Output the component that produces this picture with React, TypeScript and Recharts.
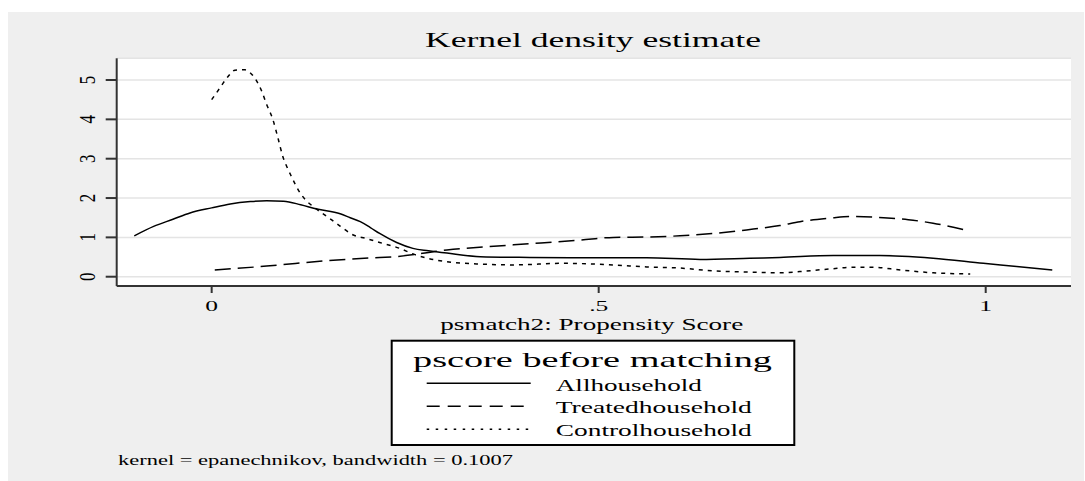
import React from "react";
import { LineChart, Line, XAxis, YAxis, CartesianGrid } from "recharts";

// ---- data ----
const allX = [-0.1, -0.075, -0.05, -0.028, 0.0, 0.024, 0.05, 0.071, 0.093, 0.115, 0.136, 0.166, 0.179, 0.192, 0.205, 0.217, 0.239, 0.26, 0.28, 0.304, 0.347, 0.411, 0.476, 0.562, 0.631, 0.695, 0.734, 0.803, 0.863, 0.932, 0.997, 1.04, 1.086];
const allY = [1.04, 1.28, 1.46, 1.62, 1.75, 1.85, 1.91, 1.93, 1.92, 1.83, 1.72, 1.6, 1.5, 1.4, 1.25, 1.1, 0.87, 0.72, 0.66, 0.6, 0.51, 0.49, 0.48, 0.48, 0.44, 0.47, 0.49, 0.54, 0.54, 0.47, 0.34, 0.26, 0.17];

const treatedX = [0.004, 0.071, 0.157, 0.217, 0.237, 0.304, 0.39, 0.476, 0.519, 0.562, 0.605, 0.648, 0.691, 0.734, 0.76, 0.8, 0.825, 0.868, 0.9, 0.932, 0.978];
const treatedY = [0.17, 0.27, 0.42, 0.49, 0.51, 0.68, 0.81, 0.93, 1.0, 1.01, 1.04, 1.1, 1.19, 1.3, 1.4, 1.49, 1.53, 1.5, 1.45, 1.36, 1.17];

const controlX = [0.0, 0.01, 0.02, 0.03, 0.043, 0.05, 0.058, 0.065, 0.071, 0.079, 0.086, 0.092, 0.097, 0.103, 0.112, 0.12, 0.13, 0.149, 0.165, 0.183, 0.2, 0.217, 0.243, 0.26, 0.304, 0.35, 0.39, 0.454, 0.519, 0.562, 0.605, 0.648, 0.69, 0.734, 0.76, 0.8, 0.829, 0.855, 0.89, 0.932, 0.98];
const controlY = [4.5, 4.78, 5.06, 5.25, 5.26, 5.18, 4.98, 4.7, 4.38, 4.0, 3.5, 3.05, 2.8, 2.55, 2.2, 1.98, 1.8, 1.53, 1.3, 1.06, 0.97, 0.87, 0.72, 0.58, 0.38, 0.32, 0.3, 0.34, 0.3, 0.25, 0.22, 0.15, 0.12, 0.1, 0.13, 0.2, 0.24, 0.24, 0.17, 0.1, 0.07];

const seriesNames = ["Allhousehold", "Treatedhousehold", "Controlhousehold"];
const xTicks = [0, 0.5, 1];
const xTickLabels = ["0", ".5", "1"];
const yTicks = [0, 1, 2, 3, 4, 5];
const yTickLabels = ["0", "1", "2", "3", "4", "5"];

const titleText = "Kernel density estimate";
const xAxisLabel = "psmatch2: Propensity Score";
const legendTitle = "pscore before matching";
const noteText = "kernel = epanechnikov, bandwidth = 0.1007";

const zip = (xs: number[], ys: number[]) => xs.map((x, i) => ({ x, y: ys[i] }));
const allData = zip(allX, allY);
const treatedData = zip(treatedX, treatedY);
const controlData = zip(controlX, controlY);

const FONT = '"Liberation Serif", "Times New Roman", serif';
const W = 1076;
const H = 469;
const AXIS = "#333333";

const dashes = ["", "16 7", "4 5"];
const legendDashes = ["", "13 8", "2.5 6.5"];

const YTick = (props: any) => {
  const { y, payload } = props;
  const i = yTicks.indexOf(payload.value);
  return (
    <text
      transform={`translate(79.5,${y}) scale(1.3,1) rotate(-90)`}
      textAnchor="middle"
      dominantBaseline="central"
      fontSize={17}
      fontFamily={FONT}
      fill="#000"
    >
      {yTickLabels[i]}
    </text>
  );
};

const XTick = (props: any) => {
  const { x, y, payload } = props;
  const i = xTicks.indexOf(payload.value);
  return (
    <text
      transform={`translate(${x},${y + 17.5}) scale(1.7,1)`}
      textAnchor="middle"
      fontSize={15}
      fontFamily={FONT}
      fill="#000"
    >
      {xTickLabels[i]}
    </text>
  );
};

export default function App() {
  return (
    <div
      style={{
        position: "absolute",
        left: 8,
        top: 12,
        width: W,
        height: H,
        background: "#efefef",
        overflow: "hidden",
      }}
    >
      <LineChart
        width={W}
        height={H}
        margin={{ top: 46.3, right: 13, left: 0, bottom: 165 }}
      >
        <CartesianGrid
          horizontal={true}
          vertical={false}
          stroke="#e4e4e4"
          strokeWidth={1.5}
          fill="#ffffff"
          fillOpacity={1}
        />
        <XAxis
          dataKey="x"
          type="number"
          domain={[-0.1227, 1.1102]}
          allowDataOverflow
          ticks={xTicks}
          height={30}
          tickSize={7}
          tickMargin={0}
          axisLine={{ stroke: AXIS, strokeWidth: 2 }}
          tickLine={{ stroke: AXIS, strokeWidth: 2 }}
          tick={<XTick />}
        />
        <YAxis
          dataKey="y"
          type="number"
          domain={[-0.236, 5.552]}
          allowDataOverflow
          ticks={yTicks}
          width={108.7}
          tickSize={11}
          tickMargin={0}
          axisLine={{ stroke: AXIS, strokeWidth: 2 }}
          tickLine={{ stroke: AXIS, strokeWidth: 2 }}
          tick={<YTick />}
        />
        <Line
          data={allData}
          dataKey="y"
          name={seriesNames[0]}
          type="monotone"
          stroke="#000"
          strokeWidth={1.5}
          dot={false}
          isAnimationActive={false}
        />
        <Line
          data={treatedData}
          dataKey="y"
          name={seriesNames[1]}
          type="monotone"
          stroke="#000"
          strokeWidth={1.5}
          strokeDasharray={dashes[1]}
          dot={false}
          isAnimationActive={false}
        />
        <Line
          data={controlData}
          dataKey="y"
          name={seriesNames[2]}
          type="monotone"
          stroke="#000"
          strokeWidth={1.5}
          strokeDasharray={dashes[2]}
          dot={false}
          isAnimationActive={false}
        />
      </LineChart>
      <svg
        width={W}
        height={H}
        style={{ position: "absolute", left: 0, top: 0, pointerEvents: "none" }}
        fontFamily={FONT}
      >
        <text x={585} y={35} fontSize={21} textAnchor="middle" textLength={336} lengthAdjust="spacingAndGlyphs" fill="#000">
          {titleText}
        </text>
        <text x={583.7} y={317.5} fontSize={16} textAnchor="middle" textLength={303} lengthAdjust="spacingAndGlyphs" fill="#000">
          {xAxisLabel}
        </text>
        <rect x={383.7} y={328.7} width={402.6} height={104.3} fill="#ffffff" stroke="#000" strokeWidth={2} />
        <text x={584.5} y={354.7} fontSize={22} textAnchor="middle" textLength={359} lengthAdjust="spacingAndGlyphs" fill="#000">
          {legendTitle}
        </text>
        {seriesNames.map((name, i) => (
          <g key={name}>
            <line
              x1={418.7}
              x2={522.7}
              y1={371.3 + i * 23}
              y2={371.3 + i * 23}
              stroke="#000"
              strokeWidth={1.5}
              strokeDasharray={legendDashes[i] || undefined}
            />
            <text
              x={547.8}
              y={378.5 + i * 22.75}
              fontSize={17}
              textLength={i === 0 ? 146 : 196}
              lengthAdjust="spacingAndGlyphs"
              fill="#000"
            >
              {name}
            </text>
          </g>
        ))}
        <text x={110} y={453} fontSize={14} textLength={395} lengthAdjust="spacingAndGlyphs" fill="#000">
          {noteText}
        </text>
      </svg>
    </div>
  );
}
